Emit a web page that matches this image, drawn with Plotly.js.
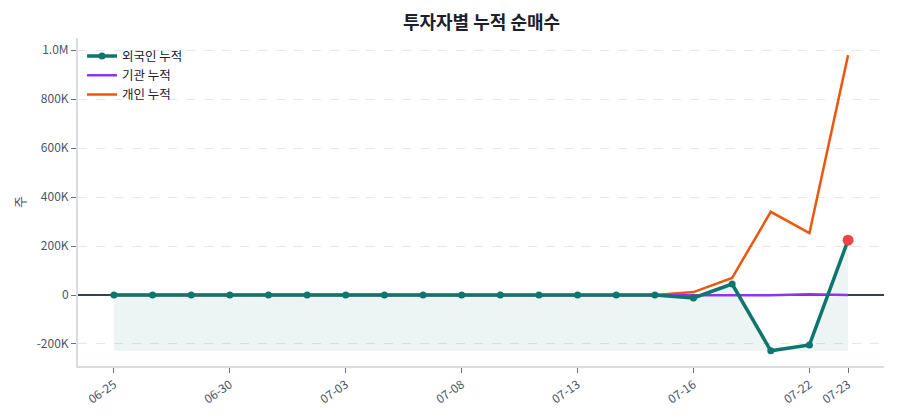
<!DOCTYPE html>
<html>
<head>
<meta charset="utf-8">
<script src="https://cdn.plot.ly/plotly-3.0.1.min.js"></script>
<style>html,body{margin:0;padding:0;background:#fff;}#chart{width:900px;height:420px;}</style>
</head>
<body>
<div id="chart"></div>
<script>
const dates = ["06-25","06-26","06-27","06-30","07-01","07-02","07-03","07-04","07-07","07-08","07-09","07-10","07-13","07-14","07-15","07-16","07-17","07-21","07-22","07-23"];
const foreignCum = [0,0,0,0,0,0,0,0,0,0,0,0,0,0,0,-12000,45000,-228000,-204000,224000];
const instCum    = [0,0,0,0,0,0,0,0,0,0,0,0,0,0,0,-1000,-1000,-1000,3000,0];
const indivCum   = [0,0,0,0,0,0,0,0,0,0,0,0,0,0,0,12000,70000,340000,253000,980000];
const tickDates = ["06-25","06-30","07-03","07-08","07-13","07-16","07-22","07-23"];

const minF = Math.min(...foreignCum);
const baseY = dates.map(() => minF);
const font = "'Noto Sans CJK KR', 'Noto Sans', sans-serif";
const teal = "#0f766e";

const traces = [
  {x: dates, y: baseY, type: "scatter", mode: "lines", line: {width: 0, color: "rgba(0,0,0,0)"}, showlegend: false, hoverinfo: "skip"},
  {x: dates, y: foreignCum, type: "scatter", mode: "lines", line: {width: 0, color: "rgba(0,0,0,0)"}, fill: "tonexty", fillcolor: "rgba(15,118,110,0.08)", showlegend: false, hoverinfo: "skip"},
  {x: dates, y: indivCum, type: "scatter", mode: "lines", name: "개인 누적", line: {color: "#ea580c", width: 2.5}, legendrank: 3},
  {x: dates, y: instCum, type: "scatter", mode: "lines", name: "기관 누적", line: {color: "#9333ea", width: 2.5}, legendrank: 2},
  {x: dates, y: foreignCum, type: "scatter", mode: "lines+markers", name: "외국인 누적", line: {color: teal, width: 3.5}, marker: {color: teal, size: 7}, legendrank: 1},
  {x: [dates[dates.length-1]], y: [foreignCum[foreignCum.length-1]], type: "scatter", mode: "markers", marker: {color: "#ef4444", size: 11}, showlegend: false}
];

const layout = {
  width: 900, height: 420,
  margin: {l: 78, r: 16, t: 38, b: 54},
  paper_bgcolor: "#fff", plot_bgcolor: "#fff",
  font: {family: font, color: "#4a5568", size: 12},
  title: {text: "<b>투자자별 누적 순매수</b>", x: 0.535, xanchor: "center", y: 0.945, yanchor: "middle", font: {family: font, size: 18, color: "#1a202c"}},
  xaxis: {
    type: "category", range: [-0.93, 19.93],
    tickmode: "array", tickvals: tickDates, ticktext: tickDates,
    tickangle: -35, ticks: "outside", ticklen: 5, tickcolor: "#6b7280",
    showgrid: false, showline: true, linecolor: "#d9dde3", linewidth: 2,
    tickfont: {size: 12, color: "#4a5568"}, zeroline: false
  },
  yaxis: {
    range: [-290000, 1050000],
    tickvals: [-200000, 0, 200000, 400000, 600000, 800000, 1000000],
    ticktext: ["-200K", "0", "200K", "400K", "600K", "800K", "1.0M"],
    ticks: "outside", ticklen: 5, tickcolor: "#6b7280",
    showgrid: true, gridcolor: "#e5e7eb", griddash: "dash", gridwidth: 1,
    showline: true, linecolor: "#d9dde3", linewidth: 2,
    zeroline: true, zerolinecolor: "#374151", zerolinewidth: 1.2,
    title: {text: "주", font: {size: 13, color: "#4a5568"}, standoff: 8},
    tickfont: {size: 12, color: "#4a5568"}
  },
  legend: {x: 0.005, y: 0.99, xanchor: "left", yanchor: "top", traceorder: "normal", bgcolor: "rgba(255,255,255,0)", font: {size: 12.5, color: "#1a202c"}, tracegroupgap: 2},
  showlegend: true
};

Plotly.newPlot("chart", traces, layout, {displayModeBar: false, staticPlot: true});
</script>
</body>
</html>
